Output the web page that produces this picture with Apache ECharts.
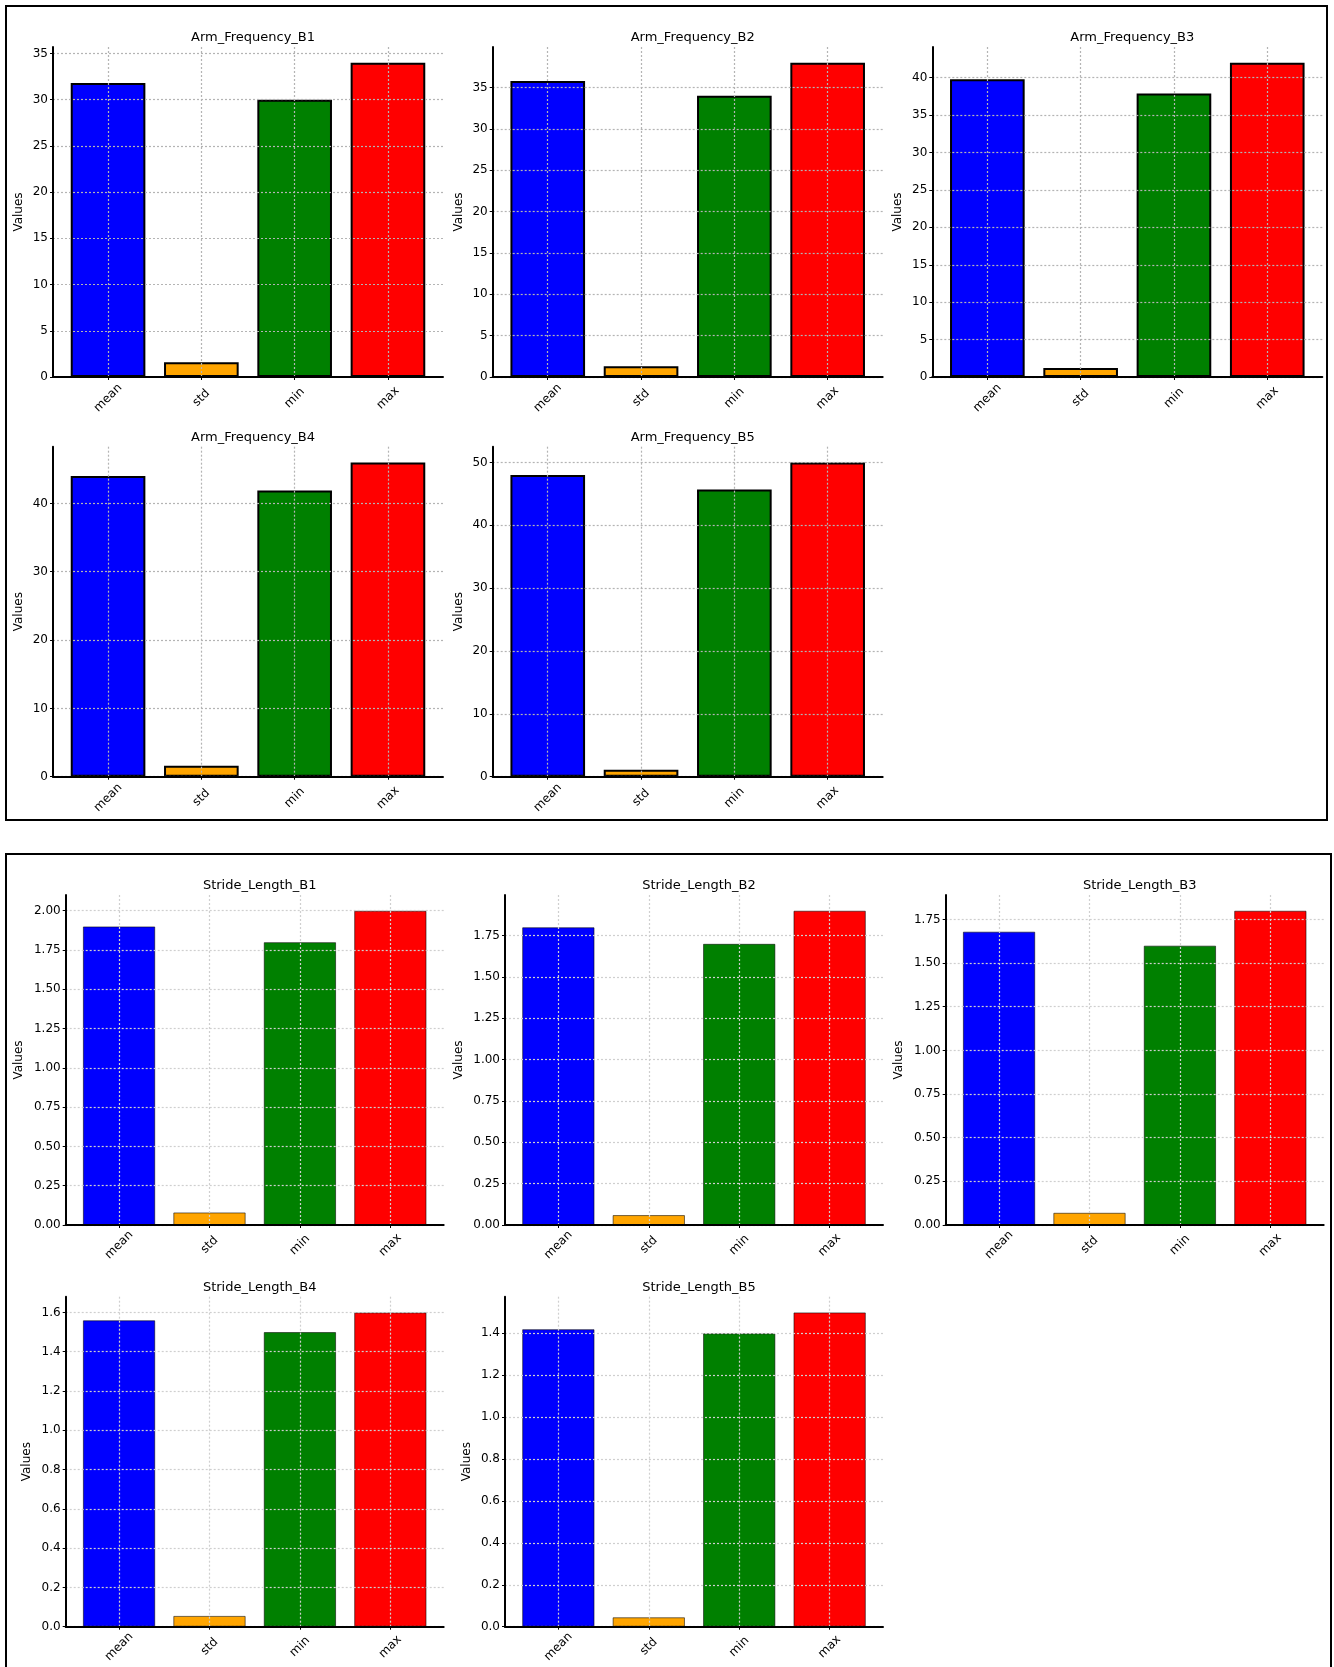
<!DOCTYPE html>
<html>
<head>
<meta charset="utf-8">
<script src="https://cdn.jsdelivr.net/npm/echarts@6/dist/echarts.min.js"></script>
<style>
  html, body { margin: 0; padding: 0; background: #ffffff; }
  #chart { width: 1334px; height: 1667px; }
</style>
</head>
<body>
<div id="chart"></div>
<script>
// Summary statistics per sensor channel
const statLabels = ['mean', 'std', 'min', 'max'];
const barColors = ['#0000ff', '#ffa500', '#008000', '#ff0000'];

const armTitles = ['Arm_Frequency_B1', 'Arm_Frequency_B2', 'Arm_Frequency_B3', 'Arm_Frequency_B4', 'Arm_Frequency_B5'];
const armFrequencyB1 = [31.8, 1.6, 30, 34];
const armFrequencyB2 = [35.8, 1.3, 34, 38];
const armFrequencyB3 = [39.8, 1.2, 37.9, 42];
const armFrequencyB4 = [44, 1.6, 41.9, 46];
const armFrequencyB5 = [48, 1.1, 45.7, 50];
const armTickSteps = [5, 5, 5, 10, 10];

const strideTitles = ['Stride_Length_B1', 'Stride_Length_B2', 'Stride_Length_B3', 'Stride_Length_B4', 'Stride_Length_B5'];
const strideLengthB1 = [1.9, 0.08, 1.8, 2.0];
const strideLengthB2 = [1.8, 0.06, 1.7, 1.9];
const strideLengthB3 = [1.68, 0.07, 1.6, 1.8];
const strideLengthB4 = [1.56, 0.055, 1.5, 1.6];
const strideLengthB5 = [1.42, 0.045, 1.4, 1.5];
const strideTickSteps = [0.25, 0.25, 0.25, 0.2, 0.2];
const strideTickDecimals = [2, 2, 2, 1, 1];

const armSets = [armFrequencyB1, armFrequencyB2, armFrequencyB3, armFrequencyB4, armFrequencyB5];
const strideSets = [strideLengthB1, strideLengthB2, strideLengthB3, strideLengthB4, strideLengthB5];

const FONT = 'DejaVu Sans';
const chart = echarts.init(document.getElementById('chart'), null, { renderer: 'canvas' });

const grids = [], xAxes = [], yAxes = [], series = [], titles = [];

// bars sit at 0..n-1, 0.8 wide, with a 5% margin on each side
const nCat = statLabels.length;
const xPad = 0.4 + 0.05 * (nCat - 1 + 0.8);
const catTicks = statLabels.map((_, i) => i);

function addPlot(p) {
  const k = grids.length;
  grids.push({ left: p.left, top: p.top, width: p.width, height: p.height, containLabel: false });
  titles.push({
    text: p.title,
    left: p.left + p.width / 2,
    top: p.top - 21,
    textAlign: 'center',
    textStyle: { fontFamily: FONT, fontSize: 13, fontWeight: 'normal', color: '#000' }
  });
  const gridLine = { color: p.gridColor, width: 1.2, type: [2, 2] };
  xAxes.push({
    type: 'value', gridIndex: k, min: -xPad, max: nCat - 1 + xPad, z: 3,
    axisLine: { show: true, onZero: false, lineStyle: { color: '#000', width: 2 } },
    axisTick: { show: true, customValues: catTicks, length: 3, lineStyle: { color: '#000' } },
    axisLabel: {
      customValues: catTicks, formatter: v => statLabels[Math.round(v)],
      rotate: 45, align: 'center', verticalAlign: 'middle', margin: p.xLabelMargin,
      fontFamily: FONT, fontSize: 12, color: '#000'
    },
    splitLine: { show: true, lineStyle: gridLine }
  });
  yAxes.push({
    type: 'value', gridIndex: k, min: 0, max: v => v.max * 1.05, interval: p.step, z: 3,
    name: 'Values', nameLocation: 'middle', nameGap: p.nameGap,
    nameTextStyle: { fontFamily: FONT, fontSize: 12, color: '#000' },
    axisLine: { show: true, onZero: false, lineStyle: { color: '#000', width: 2 } },
    axisTick: { show: true, length: 3, lineStyle: { color: '#000' } },
    axisLabel: {
      formatter: v => v.toFixed(p.decimals), showMaxLabel: false, margin: 5,
      fontFamily: FONT, fontSize: 12, color: '#000'
    },
    splitLine: { show: true, showMaxLine: false, lineStyle: gridLine }
  });
  series.push({
    type: 'bar', xAxisIndex: k, yAxisIndex: k, barWidth: '80%', z: 2,
    itemStyle: { borderColor: p.edgeColor, borderWidth: p.edgeWidth },
    data: p.values.map((v, i) => ({ value: [i, v], itemStyle: { color: barColors[i] } }))
  });
}

// Arm frequency block: 3 + 2 plots
const armLefts = [53, 492.7, 932.3];
const armTops = [47, 446.7];
armSets.forEach((vals, i) => {
  addPlot({
    left: armLefts[i % 3], top: armTops[Math.floor(i / 3)], width: 390, height: 330,
    title: armTitles[i], values: vals, step: armTickSteps[i], decimals: 0,
    nameGap: 28, xLabelMargin: 21, gridColor: '#b4b4b4',
    edgeColor: '#000', edgeWidth: 2
  });
});

// Stride length block: 3 + 2 plots
const strideLefts = [65.7, 505, 945.7];
const strideTops = [895, 1296.7];
strideSets.forEach((vals, i) => {
  addPlot({
    left: strideLefts[i % 3], top: strideTops[Math.floor(i / 3)], width: 378, height: 330,
    title: strideTitles[i], values: vals, step: strideTickSteps[i], decimals: strideTickDecimals[i],
    nameGap: i < 3 ? 40.5 : 32.5, xLabelMargin: 20, gridColor: '#cfcfcf',
    edgeColor: 'rgba(0,0,0,0.55)', edgeWidth: 1
  });
});

chart.setOption({
  backgroundColor: '#ffffff',
  animation: false,
  title: titles,
  grid: grids,
  xAxis: xAxes,
  yAxis: yAxes,
  series: series,
  graphic: [
    { type: 'rect', shape: { x: 6, y: 6, width: 1321, height: 814 }, style: { fill: 'none', stroke: '#000', lineWidth: 2 }, z: 10 },
    { type: 'rect', shape: { x: 6, y: 854, width: 1325, height: 900 }, style: { fill: 'none', stroke: '#000', lineWidth: 2 }, z: 10 }
  ]
});
</script>
</body>
</html>
